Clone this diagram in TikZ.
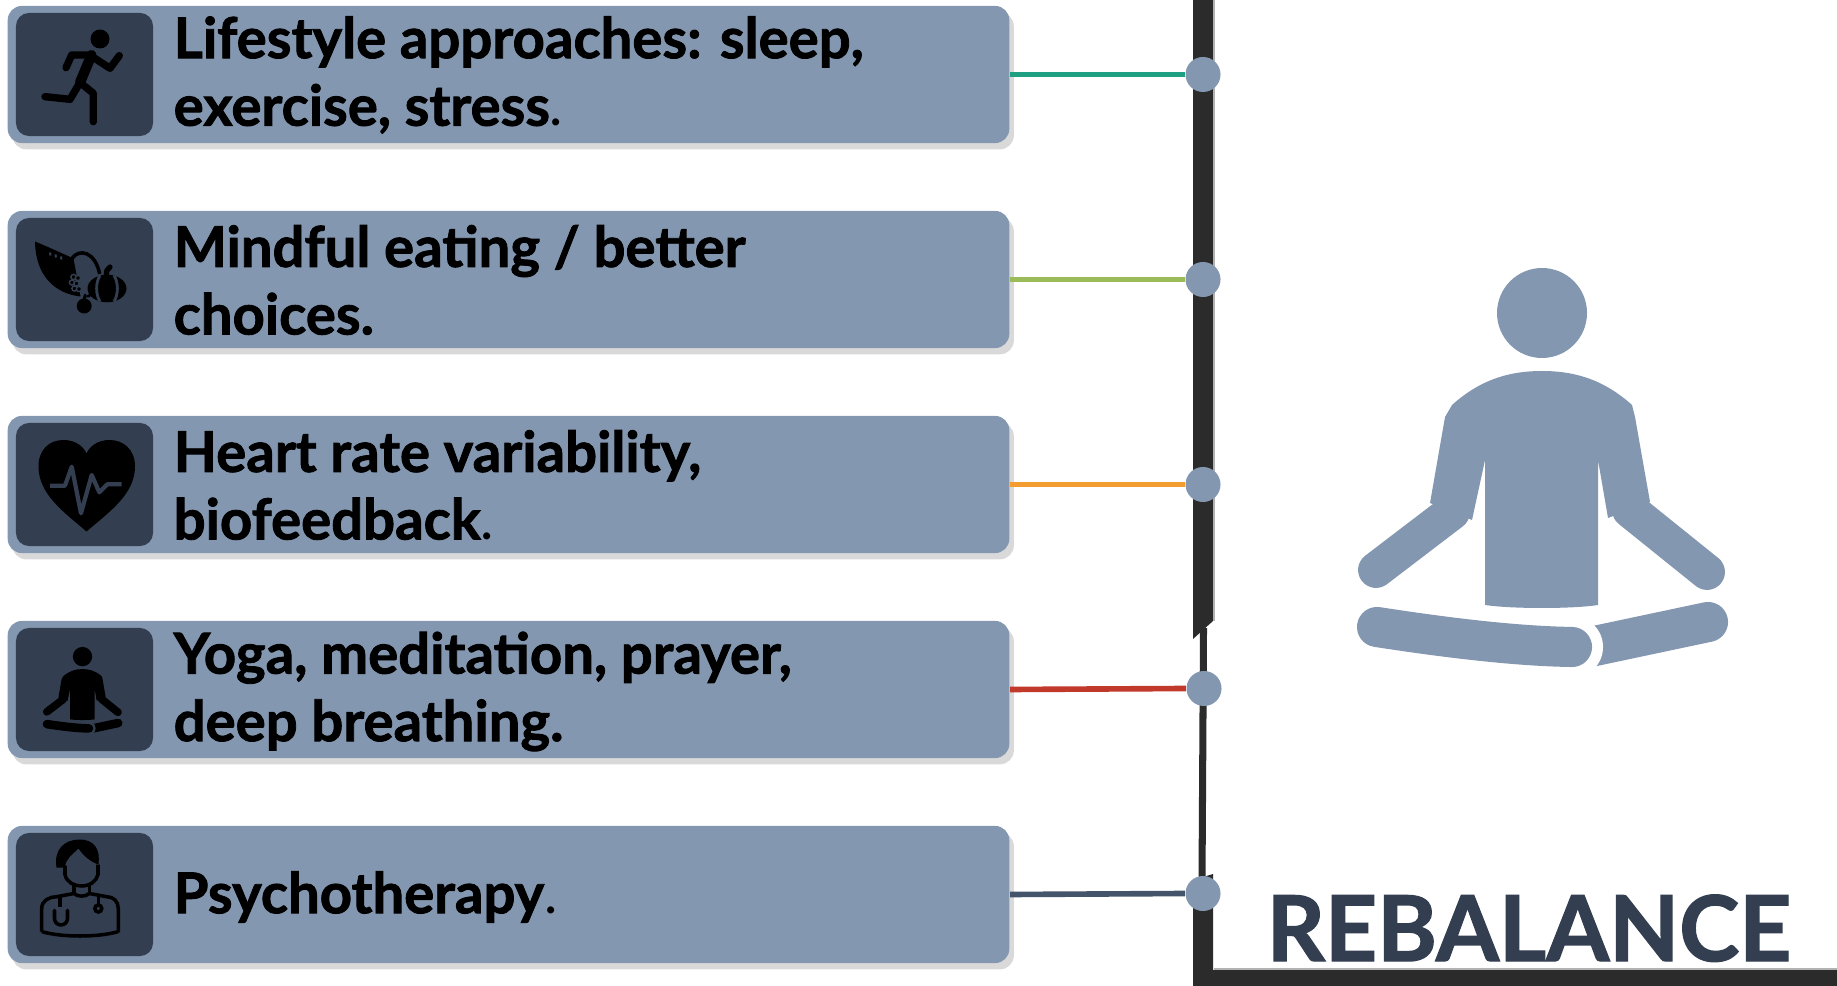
\documentclass[tikz,border=0pt]{standalone}
\usepackage{fontspec}
\setmainfont{Lato}[BoldFeatures={FakeBold=1.5}]
\usetikzlibrary{shadows}

\definecolor{slate}{HTML}{8497B0}
\definecolor{slatedark}{HTML}{333F50}
\definecolor{barcol}{HTML}{2B2B2B}
\definecolor{linteal}{HTML}{20A082}
\definecolor{lingreen}{HTML}{9BBB59}
\definecolor{linorange}{HTML}{F39C2F}
\definecolor{linred}{HTML}{C0392B}
\definecolor{linslate}{HTML}{44546A}

\tikzset{
  itembox/.style={fill=slate, rounded corners=4pt, minimum width=10.01cm, minimum height=1.37cm,
    inner sep=0pt, drop shadow={shadow xshift=1.3pt, shadow yshift=-1.8pt, opacity=0.3}},
  iconbox/.style={fill=slatedark, rounded corners=3.7pt, minimum width=1.37cm, minimum height=1.23cm, inner sep=0pt},
  itemtext/.style={anchor=west, align=left, inner sep=0pt, font=\bfseries\fontsize{16}{19.2}\selectfont},
  joint/.style={circle, fill=slate, minimum size=0.35cm, inner sep=0pt},
  conn/.style={line width=1.6pt},
  limb/.style={line cap=round, line join=round},
  grape/.style={fill=black, draw=slatedark, line width=0.4pt},
}

% seated figure: position, scale, fill colour, colour of the gap between the legs
\newcommand{\meditator}[4]{%
  \begin{scope}[shift={#1}, scale=#2]
    \fill[#3] (0,-153) circle (45);
    \fill[#3] (-90,-61) .. controls (-60,-88) and (-30,-95) .. (0,-95)
      .. controls (30,-95) and (60,-88) .. (90,-61) -- (93,-49) -- (108,36) -- (66,52)
      -- (56,-6) -- (56,139) .. controls (30,143) and (-30,143) .. (-57,139)
      -- (-57,-6) -- (-70,54) -- (-112,37) -- (-97,-49) -- cycle;
    \draw[#3, limb, line width=#2*10.2pt] (-90,46) -- (-166,104);
    \draw[#3, limb, line width=#2*10.2pt] (88,44) -- (165,106);
    \draw[#3, limb, line width=#2*11.4pt] (48,181) -- (166,156);
    \fill[#4] (30,181) circle (31);
    \draw[#3, limb, line width=#2*11.4pt] (-165,161) .. controls (-100,171) and (-30,180) .. (30,181);
  \end{scope}}

\begin{document}
\begin{tikzpicture}[x=0.01cm, y=-0.01cm]
  \useasboundingbox (0,0) rectangle (1837,986);

  % frame on the right
  \fill[barcol] (1193,0) -- (1213,0) -- (1213,621) -- (1193,639) -- cycle;
  \draw[barcol, line width=2pt] (1203.5,628) -- (1202,880);
  \fill[barcol] (1193,880) -- (1213,874) -- (1213,986) -- (1193,986) -- cycle;
  \fill[barcol] (1193,970) rectangle (1837,986);
  \draw[gray!60, line width=0.4pt] (1214,0) -- (1214,621);
  \draw[gray!60, line width=0.4pt] (1214,969) -- (1837,969);

  % item boxes
  \node[itembox] (box1) at (508.5,74.5) {};
  \node[itembox] (box2) at (508.5,279.5) {};
  \node[itembox] (box3) at (508.5,484.5) {};
  \node[itembox] (box4) at (508.5,689.5) {};
  \node[itembox] (box5) at (508.5,894.5) {};

  % icon tiles
  \node[iconbox] (tile1) at (84.5,74.5) {};
  \node[iconbox] (tile2) at (84.5,279.5) {};
  \node[iconbox] (tile3) at (84.5,484.5) {};
  \node[iconbox] (tile4) at (84.5,689.5) {};
  \node[iconbox] (tile5) at (84.5,894.5) {};

  % texts
  \node[itemtext] (txt1) at (173,75) {Lifestyle approaches: sleep,\\exercise, stress{\mdseries .}};
  \node[itemtext] (txt2) at (173,280) {Mindful eating / better\\choices.};
  \node[itemtext] (txt3) at (173,485) {Heart rate variability,\\biofeedback{\mdseries .}};
  \node[itemtext] (txt4) at (173,691.5) {Yoga, meditation, prayer,\\deep breathing.};
  \node[itemtext] (txt5) at (173,897) {Psychotherapy{\mdseries .}};

  % joints on the frame
  \node[joint] (joint1) at (1203,74.5) {};
  \node[joint] (joint2) at (1203,279.5) {};
  \node[joint] (joint3) at (1203,484.5) {};
  \node[joint] (joint4) at (1204,688.5) {};
  \node[joint] (joint5) at (1203,893.5) {};

  % connectors
  \draw[conn, linteal] (box1.east) -- (joint1.west);
  \draw[conn, lingreen] (box2.east) -- (joint2.west);
  \draw[conn, linorange] (box3.east) -- (joint3.west);
  \draw[conn, linred] (box4.east) -- (joint4.west);
  \draw[conn, linslate] (box5.east) -- (joint5.west);

  % runner
  \begin{scope}[shift={(84.5,74.5)}]
    \fill (15.5,-35.5) circle (9.5);
    \draw[limb, line width=2.9pt] (7,-19.5) -- (-4.5,8);
    \draw[limb, line width=2.1pt] (7,-19.5) -- (-12.8,-19.5) -- (-18.5,-6.8);
    \draw[limb, line width=2.1pt] (9,-17) -- (25.5,-6.2) -- (34.8,-18.8);
    \draw[limb, line width=2.1pt] (-4.5,8) -- (-14.5,24.8) -- (-39.5,22.2);
    \draw[limb, line width=2.1pt] (-4.5,8) -- (8.8,18.8) -- (8.8,47.2);
  \end{scope}

  % horn of plenty
  \begin{scope}[shift={(84.5,279.5)}]
    \fill (-49.5,-38) .. controls (-35,-32) and (-22,-26) .. (-11,-21)
      -- (-4,17) .. controls (-30,14) and (-49,-4) .. (-49.5,-38) -- cycle;
    \draw[slatedark, line width=0.6pt] (-34.5,-27) -- (-34,-24);
    \draw[slatedark, line width=0.6pt] (-29,-25) -- (-28.5,-22);
    \draw[slatedark, line width=0.6pt] (-23.5,-23) -- (-23,-20);
    \draw[line width=1pt] (-12.5,-21) .. controls (-6,-31) and (11,-29) .. (15.5,-4);
    \draw[grape] (-11,-2.5) circle (2.6);
    \draw[grape] (-6.5,-1.5) circle (2.6);
    \draw[grape] (-12.5,3) circle (2.6);
    \draw[grape] (-8,4) circle (2.6);
    \draw[grape] (-10,9) circle (2.6);
    \draw[grape] (-5.5,9.5) circle (2.6);
    \fill[slatedark] (22.5,9) ellipse (21 and 15.5);
    \fill (22.5,9) ellipse (19.5 and 13.8);
    \draw[slatedark, line width=0.8pt] (15.5,-4) .. controls (11,3) and (11,15) .. (15.5,22);
    \draw[slatedark, line width=0.8pt] (29.5,-4) .. controls (34,3) and (34,15) .. (29.5,22);
    \draw[limb, line width=1.5pt] (22,-3) .. controls (21.5,-8) and (22.5,-11) .. (25.5,-12.5);
    \fill[slatedark] (-0.3,26.5) circle (9);
    \fill (-0.3,26.5) circle (7.5);
    \draw[limb, line width=0.8pt] (-0.3,20) -- (0.7,15.5);
    \fill (1.2,18) .. controls (3,14) and (6,14) .. (7.5,15) .. controls (5.5,18) and (3.5,19) .. (1.2,18);
  \end{scope}

  % heart with pulse line
  \begin{scope}[shift={(84.5,484.5)}]
    \fill (2,47) .. controls (-20,28) and (-46,10) .. (-46,-18)
      .. controls (-46,-35) and (-35,-44.5) .. (-21,-44.5)
      .. controls (-9,-44.5) and (-1,-38) .. (2,-31)
      .. controls (5,-38) and (13,-44.5) .. (25,-44.5)
      .. controls (39,-44.5) and (50.5,-35) .. (50.5,-18)
      .. controls (50.5,10) and (24,28) .. (2,47) -- cycle;
    \draw[slatedark, line width=1.2pt, line join=round] (-34.5,1.2) -- (-19.5,1.2) -- (-12.8,-17.8)
      -- (-3.5,28.8) -- (7.2,-9.5) -- (14.8,7.8) -- (22.8,-0.2) -- (37.2,-0.2);
  \end{scope}

  % small seated figure
  \meditator{(82.5,689.5)}{0.215}{black}{slatedark}

  % doctor
  \begin{scope}[shift={(84.5,894.5)}, line width=1pt]
    \fill (-28,-27) .. controls (-31,-45) and (-20,-55) .. (-5,-55)
      .. controls (10,-55) and (16,-45) .. (14,-30)
      .. controls (5,-33) and (-2,-40) .. (-6,-46)
      .. controls (-12,-40) and (-19,-36) .. (-19.5,-27) -- cycle;
    \draw (-19.5,-29) -- (-19.5,-20) .. controls (-18,-12) and (-10,-8.5) .. (-3,-8.5)
      .. controls (5,-8.5) and (12,-13) .. (13.5,-20) -- (13.5,-30);
    \draw (-10.5,-10) -- (-10.5,-1);
    \draw (4.8,-10) -- (4.8,-1);
    \draw[line join=round] (-42.8,37) -- (-42.8,14) .. controls (-42.8,6) and (-35,2.2) .. (-27.8,2.2)
      -- (-10.5,-1) .. controls (-7,2.5) and (1,2.5) .. (4.8,-1) -- (22.2,2.2)
      .. controls (29,2.2) and (33.8,7) .. (33.8,14) -- (33.8,37)
      .. controls (15,43) and (-24,43) .. (-42.8,37);
    \draw (-24.5,2.2) -- (-24.5,12);
    \draw[line cap=round] (-30,16) -- (-30,24) arc (180:0:6.5) -- (-17,16);
    \draw (13.8,0.5) -- (13.8,10.5);
    \draw (13.8,14) circle (3.5);
  \end{scope}

  % large seated figure and title
  \meditator{(1542,466)}{1}{slate}{white}
  \node[anchor=base west, inner sep=0pt, text=slatedark, font=\bfseries\fontsize{25.8}{30}\selectfont] (title) at (1266,961) {REBALANCE};
\end{tikzpicture}
\end{document}
